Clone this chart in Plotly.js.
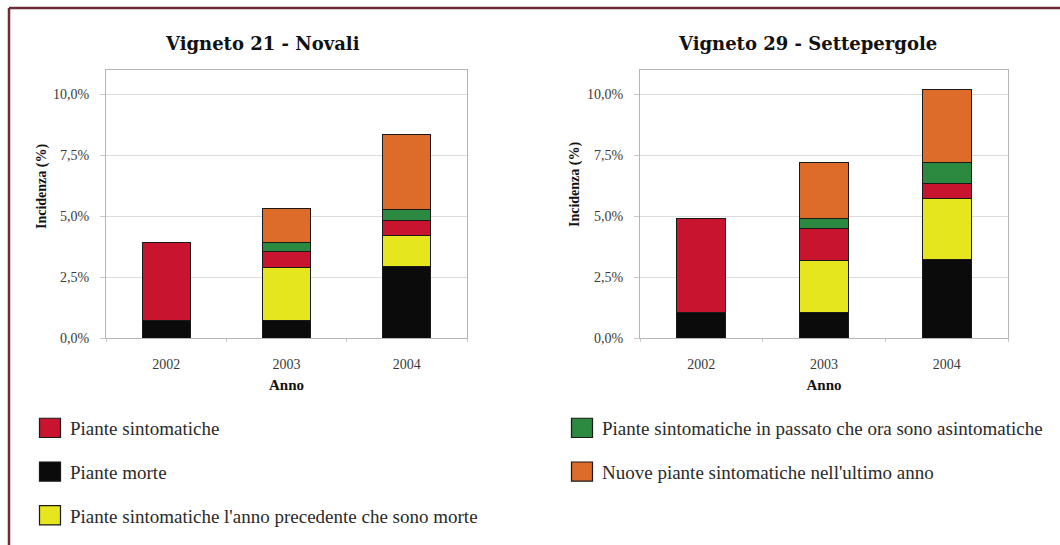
<!DOCTYPE html>
<html><head><meta charset="utf-8">
<script src="https://cdn.plot.ly/plotly-3.0.1.min.js"></script>
<style>html,body{margin:0;padding:0;background:#fff;} #chart{width:1060px;height:545px;}</style>
</head><body><div id="chart"></div>
<script>
// ---- data ----
const years = ['2002', '2003', '2004'];
const yTicks = [0, 2.5, 5, 7.5, 10];
const yTickLabels = ['0,0%', '2,5%', '5,0%', '7,5%', '10,0%'];

const nameMorte = 'Piante morte';
const nameGialle = "Piante sintomatiche l'anno precedente che sono morte";
const nameSintom = 'Piante sintomatiche';
const nameVerdi = 'Piante sintomatiche in passato che ora sono asintomatiche';
const nameNuove = "Nuove piante sintomatiche nell'ultimo anno";

// Vigneto 21 - Novali (%)
const novaliMorte  = [0.70, 0.70, 2.94];
const novaliGialle = [null, 2.20, 1.26];
const novaliSintom = [3.20, 0.65, 0.62];
const novaliVerdi  = [null, 0.38, 0.45];
const novaliNuove  = [null, 1.39, 3.07];

// Vigneto 29 - Settepergole (%)
const setteMorte  = [1.03, 1.03, 3.22];
const setteGialle = [null, 2.16, 2.51];
const setteSintom = [3.88, 1.30, 0.61];
const setteVerdi  = [null, 0.42, 0.86];
const setteNuove  = [null, 2.28, 2.98];

// ---- styling ----
const colMorte = '#0b0b0b', colGialle = '#e6e61e', colSintom = '#c8142f',
      colVerdi = '#2b8a3f', colNuove = '#dd6b2a';
const W = 1060, H = 545;
const px = v => v / W, py = v => 1 - v / H;
const SERIF = 'Liberation Serif';

function mk(y, name, color, xa, ya, show, legend, rank) {
  return {
    type: 'bar', x: years, y: y, name: name, xaxis: xa, yaxis: ya,
    marker: {color: color, line: {color: '#1a1a1a', width: 1}},
    showlegend: show, legend: legend, legendrank: rank, legendgroup: name,
    hovertemplate: '%{x}: %{y:.2f}%<extra>' + name + '</extra>'
  };
}

const data = [
  mk(novaliMorte,  nameMorte,  colMorte,  'x', 'y', true, 'legend', 2),
  mk(novaliGialle, nameGialle, colGialle, 'x', 'y', true, 'legend', 3),
  mk(novaliSintom, nameSintom, colSintom, 'x', 'y', true, 'legend', 1),
  mk(novaliVerdi,  nameVerdi,  colVerdi,  'x', 'y', true, 'legend2', 1),
  mk(novaliNuove,  nameNuove,  colNuove,  'x', 'y', true, 'legend2', 2),
  mk(setteMorte,  nameMorte,  colMorte,  'x2', 'y2', false, 'legend', 2),
  mk(setteGialle, nameGialle, colGialle, 'x2', 'y2', false, 'legend', 3),
  mk(setteSintom, nameSintom, colSintom, 'x2', 'y2', false, 'legend', 1),
  mk(setteVerdi,  nameVerdi,  colVerdi,  'x2', 'y2', false, 'legend2', 1),
  mk(setteNuove,  nameNuove,  colNuove,  'x2', 'y2', false, 'legend2', 2)
];

const tickFont = {family: SERIF, size: 14, color: '#3a3a3a'};
const boldFont = {family: SERIF, size: 15, color: '#111', weight: 'bold'};

function xaxisDef(domain) {
  return {
    domain: domain, type: 'category', showgrid: false, zeroline: false,
    showline: true, mirror: true, linecolor: '#b5b5b5', linewidth: 1,
    ticks: 'outside', tickson: 'boundaries', ticklen: 3, tickcolor: '#c8c8c8',
    tickfont: tickFont, ticklabelstandoff: 13,
    title: {text: 'Anno', font: boldFont, standoff: 8}, fixedrange: true
  };
}
function yaxisDef(anchor) {
  return {
    domain: [py(338), py(70)], range: [0, 11], anchor: anchor,
    tickvals: yTicks, ticktext: yTickLabels, tickfont: tickFont,
    showgrid: true, gridcolor: '#dcdcdc', gridwidth: 1, zeroline: false,
    showline: true, mirror: true, linecolor: '#b5b5b5', linewidth: 1,
    ticks: 'outside', ticklen: 5, tickcolor: '#c8c8c8', ticklabelstandoff: 8,
    fixedrange: true
  };
}

const titleFont = {family: 'DejaVu Serif', size: 18, color: '#111', weight: 'bold'};
const legendFont = {family: SERIF, size: 19, color: '#2a2a2a'};

const layout = {
  width: W, height: H,
  margin: {l: 0, r: 0, t: 0, b: 0},
  paper_bgcolor: '#ffffff', plot_bgcolor: '#ffffff',
  barmode: 'stack', bargap: 0.6,
  xaxis: xaxisDef([px(106), px(467)]),
  yaxis: yaxisDef('x'),
  xaxis2: Object.assign(xaxisDef([px(640), px(1008)]), {anchor: 'y2'}),
  yaxis2: yaxisDef('x2'),
  legend: {
    x: px(30), y: py(409), xanchor: 'left', yanchor: 'top',
    font: legendFont, bgcolor: 'rgba(0,0,0,0)', traceorder: 'grouped',
    tracegroupgap: 16
  },
  legend2: {
    x: px(562), y: py(409), xanchor: 'left', yanchor: 'top',
    font: legendFont, bgcolor: 'rgba(0,0,0,0)', traceorder: 'grouped',
    tracegroupgap: 16
  },
  annotations: [
    {text: 'Vigneto 21 - Novali', x: px(262), y: py(43), xref: 'paper', yref: 'paper',
     showarrow: false, xanchor: 'center', yanchor: 'middle', font: titleFont},
    {text: 'Vigneto 29 - Settepergole', x: px(807), y: py(43), xref: 'paper', yref: 'paper',
     showarrow: false, xanchor: 'center', yanchor: 'middle', font: titleFont},
    {text: '<b>Incidenza (%)</b>', x: px(42), y: py(186), xref: 'paper', yref: 'paper',
     showarrow: false, xanchor: 'center', yanchor: 'middle', textangle: -90,
     font: {family: SERIF, size: 14, color: '#111'}},
    {text: '<b>Incidenza (%)</b>', x: px(575), y: py(184), xref: 'paper', yref: 'paper',
     showarrow: false, xanchor: 'center', yanchor: 'middle', textangle: -90,
     font: {family: SERIF, size: 14, color: '#111'}}
  ],
  shapes: [
    {type: 'line', xref: 'paper', yref: 'paper', x0: px(9), x1: 1, y0: py(8), y1: py(8),
     line: {color: '#6b2c35', width: 2.5}},
    {type: 'line', xref: 'paper', yref: 'paper', x0: px(9), x1: px(9), y0: py(8), y1: 0,
     line: {color: '#6b2c35', width: 2.5}}
  ]
};

Plotly.newPlot('chart', data, layout, {displayModeBar: false, staticPlot: true}).then(gd => {
  // enlarge the legend swatches to the size used in the reference
  gd.querySelectorAll('.legendpoints path').forEach(p => {
    const t = p.getAttribute('transform') || '';
    p.setAttribute('transform', t + ' scale(1.75,1.6)');
    p.style.strokeWidth = '0.7px';
  });
});
</script>
</body></html>
